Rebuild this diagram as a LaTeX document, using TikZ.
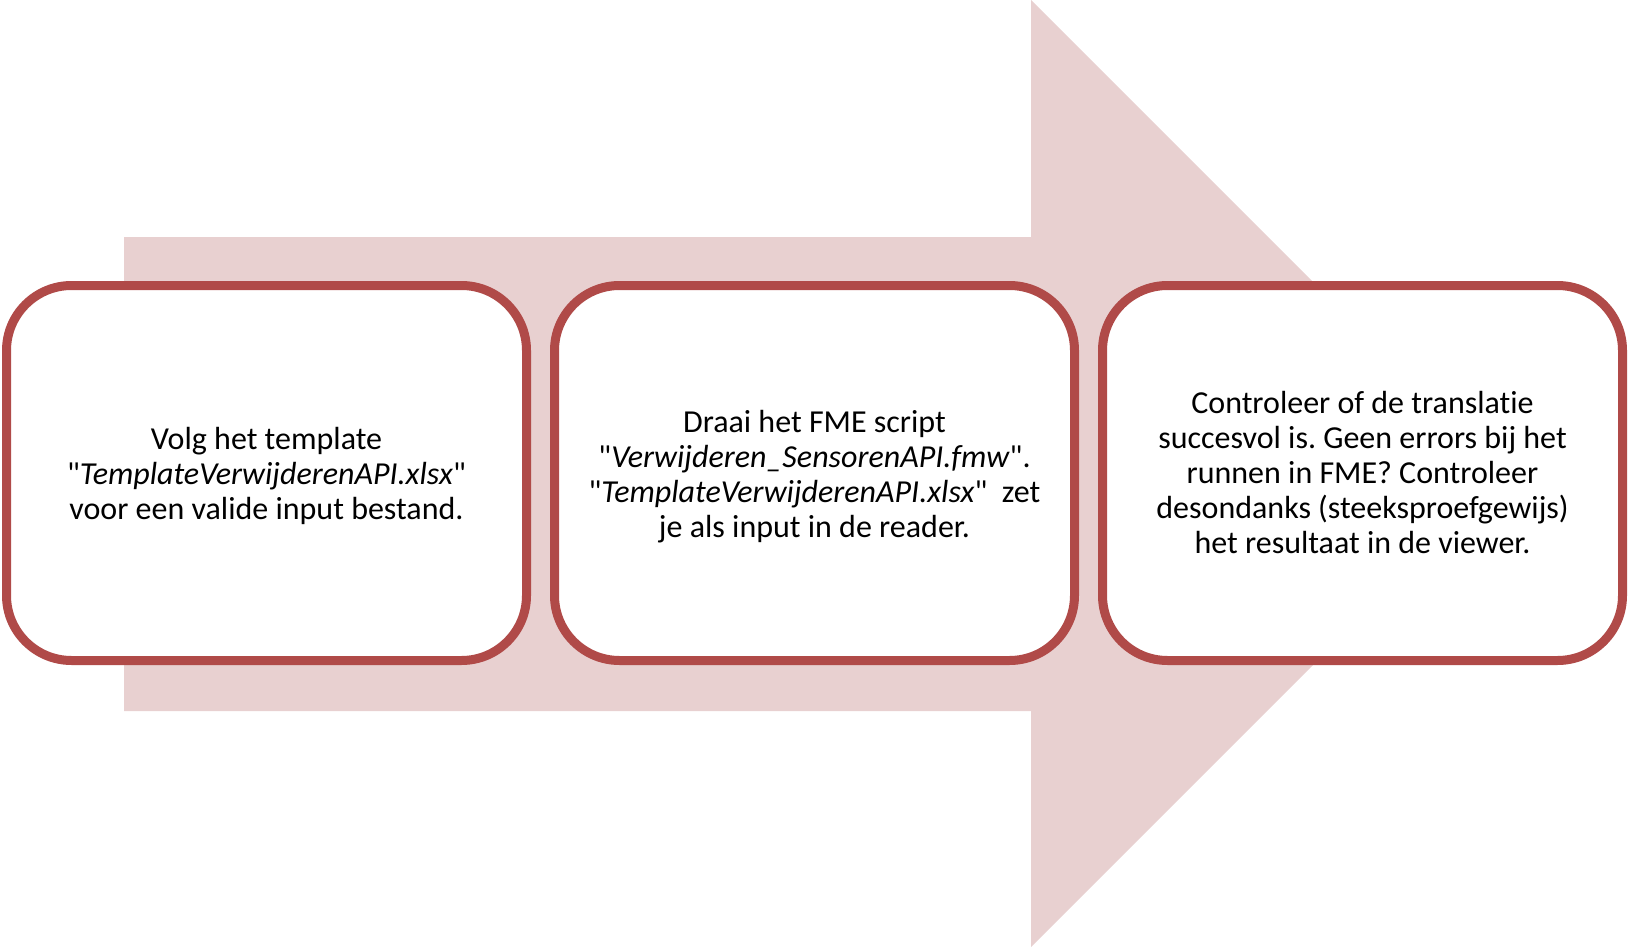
\documentclass[tikz,border=0pt]{standalone}
\usepackage{fontspec}
\setmainfont{Carlito}[Ligatures={TeXOff,NoCommon}]
\frenchspacing
\definecolor{arrowpink}{RGB}{232,208,208}
\definecolor{boxred}{RGB}{176,74,72}
\tikzset{
  stepbox/.style={draw=boxred, line width=4.5pt, fill=white,
    rounded corners=32.5pt, minimum width=260pt, minimum height=187.5pt,
    inner sep=0pt},
  steptext/.style={inner sep=0pt, align=center, text=black,
    font=\fontsize{16}{17.5}\selectfont}
}
\begin{document}
\begin{tikzpicture}[x=0.5pt,y=-0.5pt]
\useasboundingbox (0,0) rectangle (1629,947);
\fill[arrowpink] (124,237) -- (1031,237) -- (1031,0) -- (1504.5,473.5)
  -- (1031,947) -- (1031,711) -- (124,711) -- cycle;
\node[stepbox] (b1) at (266.5,473) {};
\node[stepbox] (b2) at (814.5,473) {};
\node[stepbox] (b3) at (1362.5,473) {};
\node[steptext] (t1) at ([yshift=-1.6pt]b1.center) {Volg het template\\
"\textit{TemplateVerwijderenAPI.xlsx}"\\
voor een valide input bestand.};
\node[steptext] (t2) at ([yshift=-1.6pt]b2.center) {Draai het FME script\\
"\textit{Verwijderen\_SensorenAPI.fmw}".\\
"\textit{TemplateVerwijderenAPI.xlsx}"\ \ zet\\
je als input in de reader.};
\node[steptext] (t3) at (b3.center) {Controleer of de translatie\\
succesvol is. Geen errors bij het\\
runnen in FME? Controleer\\
desondanks (steeksproefgewijs)\\
het resultaat in de viewer.};
\end{tikzpicture}
\end{document}
